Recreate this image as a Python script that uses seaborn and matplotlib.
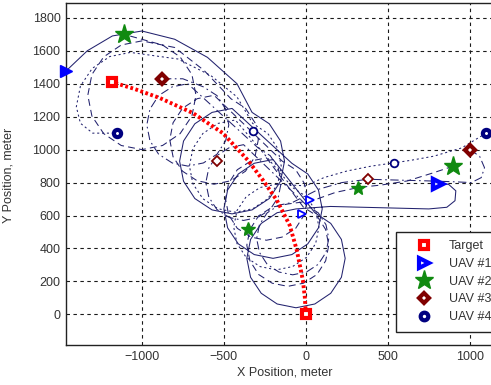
import numpy as np
import matplotlib
matplotlib.use("Agg")
import matplotlib.pyplot as plt
import seaborn as sns
from matplotlib.lines import Line2D

# target path (meters)
target_x = [0, -6, -18, -55, -98, -177, -262, -354, -506, -689, -890, -1050, -1183]
target_y = [0, 103, 207, 389, 540, 693, 815, 936, 1100, 1222, 1313, 1370, 1410]

# UAV trajectories
uav1_x = [805, 870, 915, 910, 860, 750, 550, 350, 150,
          -60, -175, -272, -337, -360, -337, -272, -175, -60, 55, 152, 217, 240, 217, 152, 55,
          -200, -315, -412, -477, -500, -477, -412, -315, -200, -85, 12, 77, 100, 77, 12, -85,
          -450, -572, -677, -746, -770, -746, -677, -572, -450, -328, -223, -154, -130, -154, -223, -328,
          -420, -600, -800, -1000, -1180, -1333, -1460]
uav1_y = [790, 790, 750, 690, 650, 640, 645, 650, 655,
          640, 617, 552, 455, 340, 225, 128, 63, 40, 63, 128, 225, 340, 455, 552, 617,
          940, 917, 852, 755, 640, 525, 428, 363, 340, 363, 428, 525, 640, 755, 852, 917,
          1250, 1226, 1157, 1052, 930, 808, 703, 634, 610, 634, 703, 808, 930, 1052, 1157, 1226,
          1400, 1560, 1670, 1720, 1690, 1600, 1480]

uav2_x = [900, 780, 620, 460, 320, 180, 40,
          -110, -205, -288, -341, -360, -341, -288, -205, -110, -15, 68, 121, 140, 121, 68, -15,
          -240, -335, -418, -471, -490, -471, -418, -335, -240, -145, -62, -9, 10, -9, -62, -145,
          -560, -663, -752, -810, -830, -810, -752, -663, -560, -457, -368, -310, -290, -310, -368, -457,
          -620, -800,
          -1000, -1126, -1233, -1305, -1330, -1305, -1233, -1126, -1000, -874, -767, -695, -670, -695, -767, -874,
          -1110]
uav2_y = [900, 860, 810, 785, 770, 740, 690,
          670, 651, 598, 515, 420, 325, 242, 189, 170, 189, 242, 325, 420, 515, 598, 651,
          950, 931, 878, 795, 700, 605, 522, 469, 450, 469, 522, 605, 700, 795, 878, 931,
          1330, 1309, 1251, 1163, 1060, 957, 869, 811, 790, 811, 869, 957, 1060, 1163, 1251, 1309,
          1480, 1620,
          1660, 1635, 1563, 1456, 1330, 1204, 1097, 1025, 1000, 1025, 1097, 1204, 1330, 1456, 1563, 1635,
          1700]

uav3_x = [1000, 1060, 1090, 1070, 1010, 900, 750, 560, 380, 220, 80,
          -80, -164, -236, -283, -300, -283, -236, -164, -80, 4, 76, 123, 140, 123, 76, 4,
          -380, -467, -543, -592, -610, -592, -543, -467, -380, -293, -217, -168, -150, -168, -217, -293,
          -720, -815, -898, -951, -970, -951, -898, -815, -720, -625, -542, -489, -470, -489, -542, -625,
          -750, -880]
uav3_y = [1000, 960, 890, 830, 800, 805, 810, 815, 820, 800, 760,
          680, 663, 616, 544, 460, 376, 304, 257, 240, 257, 304, 376, 460, 544, 616, 663,
          1030, 1012, 963, 888, 800, 712, 637, 588, 570, 588, 637, 712, 800, 888, 963, 1012,
          1400, 1381, 1328, 1246, 1150, 1054, 972, 919, 900, 919, 972, 1054, 1150, 1246, 1328, 1381,
          1430, 1430]

uav4_x = [1100, 950, 780, 640, 540, 400, 250, 110, 0,
          -180, -279, -364, -420, -440, -420, -364, -279, -180, -81, 4, 60, 80, 60, 4, -81,
          -430, -536, -628, -689, -710, -689, -628, -536, -430, -324, -232, -171, -150, -171, -232, -324,
          -420, -580, -780,
          -1070, -1196, -1303, -1375, -1400, -1375, -1300, -1150]
uav4_y = [1100, 1010, 960, 935, 920, 900, 870, 830, 780,
          790, 770, 714, 630, 530, 430, 346, 290, 270, 290, 346, 430, 530, 630, 714, 770,
          1180, 1159, 1098, 1007, 900, 793, 702, 641, 620, 641, 702, 793, 900, 1007, 1098, 1159,
          1320, 1450, 1550,
          1590, 1565, 1493, 1386, 1260, 1160, 1100, 1100]

# marker snapshots: (x, y)
target_pts = [(0, 0), (-1183, 1410)]
uav1_start = [(805, 790)]
uav1_end = [(-1460, 1480)]
uav1_small = [(24, 696), (-24, 612)]
uav2_big = [(900, 900), (-1110, 1700)]
uav2_small = [(320, 770), (-350, 520)]
uav3_big = [(1000, 1000), (-880, 1430)]
uav3_small = [(380, 820), (-540, 930)]
uav4_big = [(1100, 1100), (-1150, 1100)]
uav4_small = [(540, 920), (-320, 1110)]

labels = ["Target", "UAV #1", "UAV #2", "UAV #3", "UAV #4"]

c_red = "#ff0000"
c_blue = "#0000ff"
c_green = "#108a10"
c_dred = "#800000"
c_navy = "#000080"
c_path = "#22226e"

sns.set_style("white")
plt.rcParams["font.family"] = ["Liberation Sans", "DejaVu Sans"]
plt.rcParams["lines.scale_dashes"] = False

fig = plt.figure(figsize=(4.91, 3.85), dpi=100)
ax = fig.add_axes([66 / 491, 40 / 385, 439 / 491, 342 / 385])

sns.lineplot(x=uav1_x, y=uav1_y, sort=False, estimator=None, ax=ax,
             color=c_path, linewidth=0.75, linestyle="-")
sns.lineplot(x=uav2_x, y=uav2_y, sort=False, estimator=None, ax=ax,
             color=c_path, linewidth=0.75, linestyle=(0, (5, 3)))
sns.lineplot(x=uav3_x, y=uav3_y, sort=False, estimator=None, ax=ax,
             color=c_path, linewidth=0.75, linestyle=(0, (6, 2.5, 1.2, 2.5)))
sns.lineplot(x=uav4_x, y=uav4_y, sort=False, estimator=None, ax=ax,
             color=c_path, linewidth=0.75, linestyle=(0, (1.5, 2)))
sns.lineplot(x=target_x, y=target_y, sort=False, estimator=None, ax=ax,
             color=c_red, linewidth=2.8, linestyle=(0, (2.0, 1.8)))


def put(pts, marker, color, ms, mew, face="white"):
    xs = [p[0] for p in pts]
    ys = [p[1] for p in pts]
    ax.plot(xs, ys, linestyle="none", marker=marker, ms=ms, mew=mew,
            mec=color, mfc=face, clip_on=False, zorder=5)


put(target_pts, "s", c_red, 5.2, 3)
put(uav1_start, ">", c_blue, 6.5, 3.2)
put(uav1_end, ">", c_blue, 8, 1, face=c_blue)
put(uav1_small, ">", c_blue, 6, 1.3)
put(uav2_big, "*", c_green, 14, 1, face=c_green)
put(uav2_small, "*", c_green, 10, 1, face=c_green)
put(uav3_big, "D", c_dred, 5, 3)
put(uav3_small, "D", c_dred, 5, 1.3)
put(uav4_big, "o", c_navy, 5.2, 3)
put(uav4_small, "o", c_navy, 5.5, 1.3)

ax.set_xlim(-1463, 1215)
ax.set_ylim(-186, 1890)
ax.set_xticks([-1000, -500, 0, 500, 1000])
ax.set_yticks(np.arange(0, 1801, 200))
ax.grid(True, color="#1a1a1a", linewidth=0.8, linestyle=(0, (2.5, 2.5)))
ax.set_axisbelow(True)
ax.tick_params(direction="in", length=3, labelsize=9, labelcolor="#333333", pad=4)
for s in ax.spines.values():
    s.set_color("#222222")
    s.set_linewidth(1.0)

ax.set_xlabel("X Position, meter", fontsize=9, color="#333333")
ax.set_ylabel("Y Position, meter", fontsize=9, color="#333333")
ax.xaxis.set_label_coords((285 - 66) / 439, -0.062)
ax.yaxis.set_label_coords(-0.118, (345 - 175) / 342)

handles = [
    Line2D([], [], ls="none", marker="s", ms=5.5, mew=3, mec=c_red, mfc="white"),
    Line2D([], [], ls="none", marker=">", ms=6.5, mew=3, mec=c_blue, mfc="white"),
    Line2D([], [], ls="none", marker="*", ms=14, mew=1, mec=c_green, mfc=c_green),
    Line2D([], [], ls="none", marker="D", ms=5, mew=3, mec=c_dred, mfc="white"),
    Line2D([], [], ls="none", marker="o", ms=5.5, mew=3, mec=c_navy, mfc="white"),
]
leg = ax.legend(handles, labels, loc="lower left",
                bbox_to_anchor=((390 - 66) / 439, 7 / 342), fontsize=9,
                frameon=True, fancybox=False, framealpha=1, edgecolor="#222222",
                handlelength=3, borderpad=0.7, handletextpad=0.5, labelspacing=0.45)
leg.get_frame().set_linewidth(1.0)
for t in leg.get_texts():
    t.set_color("#333333")

fig.savefig("out.png", dpi=100)
